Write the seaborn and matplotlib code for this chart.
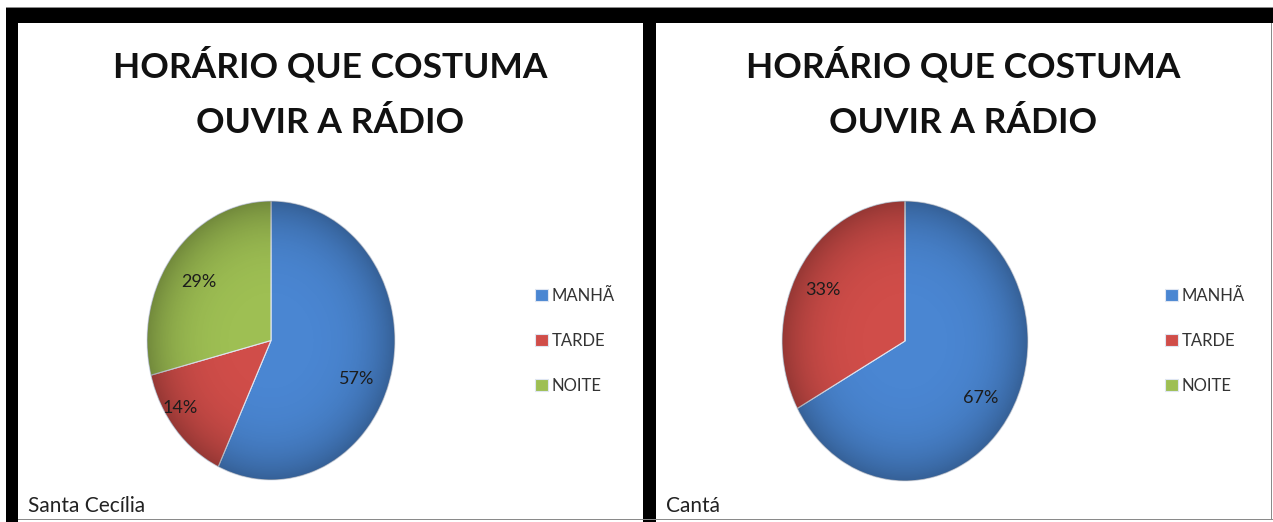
import numpy as np
import pandas as pd
import seaborn as sns
import matplotlib.pyplot as plt
from matplotlib.patches import Rectangle, Circle

# ---- data ----
categories = ["MANHÃ", "TARDE", "NOITE"]
santa_cecilia = [57, 14, 29]
canta = [67, 33, 0]
title_lines = ["HORÁRIO QUE COSTUMA", "OUVIR A RÁDIO"]
panel_names = ["Santa Cecília", "Cantá"]

sns.set_theme(style="white")
plt.rcParams["font.family"] = ["Lato", "DejaVu Sans"]

W, H = 1273, 522
fig = plt.figure(figsize=(W / 100, H / 100), dpi=100)
fig.patch.set_facecolor("white")


def box(x0, y0, x1, y1):
    return [x0 / W, 1 - y1 / H, (x1 - x0) / W, (y1 - y0) / H]


def rect(x0, y0, x1, y1, color):
    fig.add_artist(Rectangle((x0 / W, 1 - y1 / H), (x1 - x0) / W, (y1 - y0) / H,
                             transform=fig.transFigure, facecolor=color,
                             edgecolor="none", zorder=10))


colors = sns.color_palette(["#4A86D2", "#D04D49", "#9EBF53"])

# radial shading used for the 3D-like look
_g = np.linspace(-1, 1, 300)
_X, _Y = np.meshgrid(_g, _g)
_R = np.sqrt(_X ** 2 + _Y ** 2)
_shade = np.zeros((300, 300, 4))
_shade[..., 3] = np.clip(0.28 * _R ** 4, 0, 0.28)


def draw(values, pie_box, radii, nudges, legend_x, title_cx, name_x, name):
    ax = fig.add_axes(box(*pie_box))
    wedges, _texts, autotexts = ax.pie(
        values, colors=colors, startangle=90, counterclock=False,
        autopct=lambda p: f"{p:.0f}%" if p > 0.5 else "",
        pctdistance=0.74,
        wedgeprops=dict(edgecolor="#dfe6f2", linewidth=0.8),
        textprops=dict(fontsize=13, color="#1c1c1c"))
    ax.set_aspect("auto")
    ax.set_xlim(-1, 1)
    ax.set_ylim(-1, 1)
    ax.axis("off")
    im = ax.imshow(_shade, extent=(-1, 1, -1, 1), origin="lower", zorder=1.5,
                   interpolation="bilinear", aspect="auto")
    clip = Circle((0, 0), 1.0, transform=ax.transData)
    im.set_clip_path(clip)
    for t in autotexts:
        t.set_zorder(3)
    for w, t, r, d in zip(wedges, autotexts, radii, nudges):
        mid = np.deg2rad((w.theta1 + w.theta2) / 2 + d)
        t.set_position((r * np.cos(mid), r * np.sin(mid)))
    fig.legend(wedges, categories, loc="center left",
               bbox_to_anchor=(legend_x / W, 1 - 341 / H), frameon=False,
               handlelength=0.75, handleheight=0.75, handletextpad=0.25,
               labelspacing=1.75, fontsize=12, labelcolor="#333333",
               borderaxespad=0, borderpad=0)
    fig.text(title_cx / W, 1 - 78 / H, title_lines[0], ha="center", va="baseline",
             fontsize=25.5, fontweight="bold", color="#111111")
    fig.text(title_cx / W, 1 - 133 / H, title_lines[1], ha="center", va="baseline",
             fontsize=25.5, fontweight="bold", color="#111111")
    fig.text(name_x / W, 1 - 512 / H, name, ha="left", va="baseline",
             fontsize=15, color="#222222")


draw(santa_cecilia, (147, 201, 395, 480), [0.74, 0.88, 0.72], [-9, -6, 2],
     535, 330, 28, panel_names[0])
draw(canta, (782, 201, 1028, 481), [0.735, 0.76, 0.7], [-3, 2, 0],
     1165, 963, 666, panel_names[1])

# frame
rect(6, 8, W, 23, "black")
rect(6, 8, 18, H, "black")
rect(643, 8, 656, H, "black")
rect(18, 518.5, W, 520, "#8a8a8a")
rect(1270.5, 23, 1272, 520, "#8a8a8a")
rect(6, 7, W, 8, "#8a8a8a")

fig.savefig("out.png", dpi=100)
